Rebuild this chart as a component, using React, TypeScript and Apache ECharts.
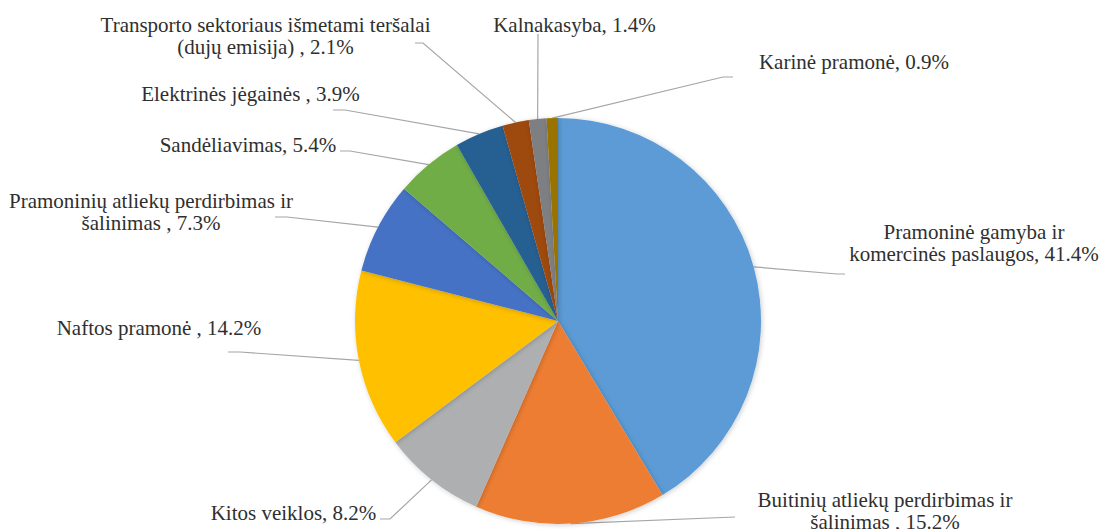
import React, { useEffect, useRef } from "react";
import * as echarts from "echarts";

// ---- data ----
const categories: string[] = [
  "Pramoninė gamyba ir\nkomercinės paslaugos",
  "Buitinių atliekų perdirbimas ir\nšalinimas ",
  "Kitos veiklos",
  "Naftos pramonė ",
  "Pramoninių atliekų perdirbimas ir\nšalinimas ",
  "Sandėliavimas",
  "Elektrinės jėgainės ",
  "Transporto sektoriaus išmetami teršalai\n(dujų emisija) ",
  "Kalnakasyba",
  "Karinė pramonė",
];
const shares: number[] = [41.4, 15.2, 8.2, 14.2, 7.3, 5.4, 3.9, 2.1, 1.4, 0.9];
const colors: string[] = [
  "#5B9BD5",
  "#ED7D31",
  "#AEAFB1",
  "#FFC000",
  "#4472C4",
  "#70AD47",
  "#255E91",
  "#9E480E",
  "#7E7F83",
  "#997300",
];

// ---- layout (positions only, not data) ----
const CX = 558;
const CY = 321;
const R = 203;
// label centre positions
const labelPos: [number, number][] = [
  [974, 242.5],
  [885, 511],
  [293.5, 513],
  [159, 328],
  [151, 212],
  [248, 145],
  [250.5, 94],
  [265.5, 36],
  [574.5, 25],
  [854, 62],
];
// leader line points near the label (from label side toward pie)
const leaderEnds: number[][][] = [
  [[845, 274], [837, 274]],
  [[735, 517]],
  [[380, 519], [390, 519]],
  [[228, 352], [240, 352]],
  [[275, 217], [287, 217]],
  [[340, 151], [350, 151]],
  [[333, 110], [345, 110]],
  [[415, 43], [423, 43]],
  [[538, 34]],
  [[733, 77], [723, 77]],
];

function edgePoint(idx: number): number[] {
  const total = shares.reduce((a, b) => a + b, 0);
  let before = 0;
  for (let i = 0; i < idx; i++) before += shares[i];
  const mid = (before + shares[idx] / 2) / total;
  const th = mid * Math.PI * 2;
  return [CX + R * Math.sin(th), CY - R * Math.cos(th)];
}

export default function App() {
  const ref = useRef<HTMLDivElement>(null);
  useEffect(() => {
    if (!ref.current) return;
    const chart = echarts.init(ref.current, null, { renderer: "svg" });
    chart.setOption({
      animation: false,
      backgroundColor: "#ffffff",
      series: [
        {
          type: "pie",
          center: [CX, CY],
          radius: [0, R],
          startAngle: 90,
          clockwise: true,
          avoidLabelOverlap: false,
          data: categories.map((name, i) => ({
            name,
            value: shares[i],
            itemStyle: { color: colors[i] },
          })),
          itemStyle: {
            borderWidth: 0,
            shadowBlur: 5,
            shadowColor: "rgba(0,0,0,0.2)",
            shadowOffsetX: 1,
            shadowOffsetY: 1,
          },
          label: {
            show: true,
            position: "outside",
            color: "#2f2f2f",
            fontFamily: "Liberation Serif",
            fontSize: 21,
            lineHeight: 22,
            align: "center",
            formatter: (p: any) => `${p.name}, ${Number(p.value).toFixed(1)}%`,
          },
          labelLine: {
            show: true,
            smooth: false,
            lineStyle: { color: "#A6A6A6", width: 1.2 },
          },
          labelLayout: (params: any) => {
            const i = params.dataIndex;
            const pts = [edgePoint(i), ...leaderEnds[i].slice().reverse()];
            return {
              x: labelPos[i][0],
              y: labelPos[i][1],
              align: "center",
              verticalAlign: "middle",
              labelLinePoints: pts,
            };
          },
          emphasis: { disabled: true },
        },
      ],
    });
    return () => chart.dispose();
  }, []);
  return (
    <div
      ref={ref}
      style={{ position: "fixed", left: 0, top: 0, width: 1099, height: 529 }}
    />
  );
}
